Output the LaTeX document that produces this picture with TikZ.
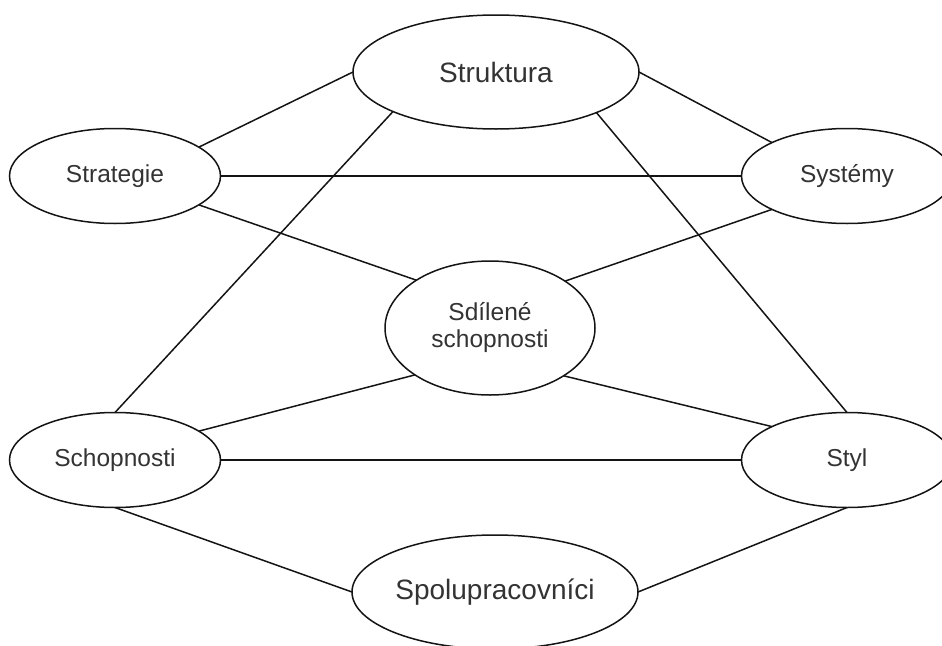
\documentclass[tikz,border=0pt]{standalone}
\usepackage{fontspec}
\setmainfont{Liberation Sans}
\usetikzlibrary{shapes.geometric}
\definecolor{txt}{RGB}{51,51,51}
\definecolor{ln}{RGB}{20,20,20}
\begin{document}
\begin{tikzpicture}[x=1pt,y=-1pt,
  oval/.style={ellipse,draw=ln,line width=1.5pt,fill=white,inner sep=-12pt,outer sep=0pt,
    text=txt,align=center},
  bigoval/.style={oval,minimum width=286pt,minimum height=114pt,font=\fontsize{28}{32}\selectfont},
  smalloval/.style={oval,minimum width=211pt,minimum height=95pt,font=\fontsize{24.5}{27}\selectfont},
  link/.style={draw=ln,line width=1.5pt}]
\useasboundingbox (0,0) rectangle (942,645);
\clip (0,0) rectangle (942,645);
\node[bigoval] (struk) at (496,72) {Struktura};
\node[smalloval] (strat) at (115,176) {Strategie};
\node[smalloval] (sys) at (847,176) {Systémy};
\node[oval,minimum width=210pt,minimum height=134pt,font=\fontsize{24.5}{27}\selectfont] (sdil) at (490,328) {Sdílené\\schopnosti};
\node[smalloval] (schop) at (115,460) {Schopnosti};
\node[smalloval] (styl) at (847,460) {Styl};
\node[bigoval] (spol) at (495,592) {Spolupracovníci};
\path[link] (strat.19) -- (struk.west);
\path[link] (strat.east) -- (sys.west);
\path[link] (strat.-19) -- (sdil.147.5);
\path[link] (struk.201.8) -- (schop.north);
\path[link] (struk.338.2) -- (styl.north);
\path[link] (struk.east) -- (sys.156);
\path[link] (sys.204) -- (sdil.32.5);
\path[link] (sdil.212.5) -- (schop.19.5);
\path[link] (sdil.327.5) -- (styl.156);
\path[link] (schop.east) -- (styl.west);
\path[link] (schop.south) -- (spol.west);
\path[link] (styl.south) -- (spol.east);
\end{tikzpicture}
\end{document}
